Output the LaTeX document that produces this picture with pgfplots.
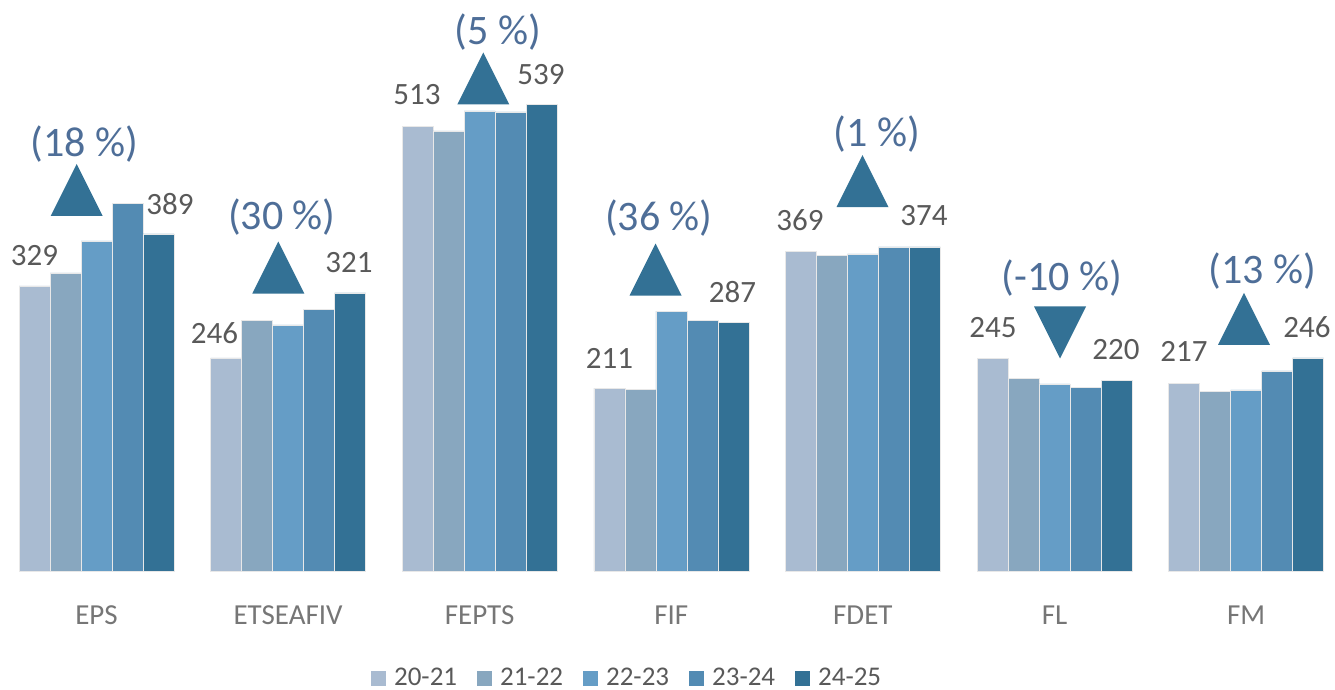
\documentclass[border=0pt]{standalone}
\usepackage{pgfplots}
\pgfplotsset{compat=1.18}
\usepackage{fontspec}
\setmainfont{Carlito}
\definecolor{c1}{HTML}{A9BBD1}
\definecolor{c2}{HTML}{88A7BF}
\definecolor{c3}{HTML}{659DC6}
\definecolor{c4}{HTML}{538BB3}
\definecolor{c5}{HTML}{337195}
\definecolor{pct}{HTML}{4E6E98}
\definecolor{num}{HTML}{595959}
\definecolor{cat}{HTML}{767676}
\pgfdeclareplotmark{triup}{%
  \pgfpathmoveto{\pgfqpoint{-13pt}{-13pt}}%
  \pgfpathlineto{\pgfqpoint{13pt}{-13pt}}%
  \pgfpathlineto{\pgfqpoint{0pt}{13pt}}%
  \pgfpathclose\pgfusepathqfill}
\pgfdeclareplotmark{tridown}{%
  \pgfpathmoveto{\pgfqpoint{-13pt}{13pt}}%
  \pgfpathlineto{\pgfqpoint{13pt}{13pt}}%
  \pgfpathlineto{\pgfqpoint{0pt}{-13pt}}%
  \pgfpathclose\pgfusepathqfill}
\begin{document}
\begin{tikzpicture}
\path[use as bounding box] (0pt,-59.5pt) rectangle (667.5pt,285.5pt);
\begin{axis}[
  at={(0pt,0pt)}, anchor=south west,
  scale only axis, width=667.5pt, height=285.5pt,
  xmin=-0.5037, xmax=6.464, ymin=0, ymax=659.1,
  clip=false,
  axis line style={draw=none},
  ytick=\empty,
  xtick={0,1,2,3,4,5,6},
  xticklabels={EPS,ETSEAFIV,FEPTS,FIF,FDET,FL,FM},
  major tick length=0pt,
  xticklabel style={anchor=center, yshift=-22pt, font=\fontsize{14.5}{17}\selectfont, text=cat},
  legend columns=5,
  legend style={at={(axis description cs:0.472,-0.1875)}, anchor=center, draw=none, fill=none,
    font=\fontsize{13.5}{15}\selectfont, text=num,
    nodes={inner xsep=4pt, inner ysep=0pt},
    /tikz/every even column/.append style={column sep=6pt}},
  legend image code/.code={\fill[#1,draw=none] (0pt,-3.75pt) rectangle (7.5pt,3.75pt);},
  every axis plot/.append style={draw=white!82!gray, line width=0.3pt},
]
\addplot[ybar, bar width=0.1618, bar shift=-0.3236, fill=c1] coordinates {(0,329) (1,246) (2,513) (3,211) (4,369) (5,245) (6,217)};
\addlegendentry{20-21}
\addplot[ybar, bar width=0.1618, bar shift=-0.1618, fill=c2] coordinates {(0,344) (1,289) (2,508) (3,210) (4,364) (5,222) (6,207)};
\addlegendentry{21-22}
\addplot[ybar, bar width=0.1618, bar shift=0, fill=c3] coordinates {(0,381) (1,284) (2,531) (3,300) (4,366) (5,216) (6,209)};
\addlegendentry{22-23}
\addplot[ybar, bar width=0.1618, bar shift=0.1618, fill=c4] coordinates {(0,424) (1,302) (2,530) (3,289) (4,374) (5,212) (6,231)};
\addlegendentry{23-24}
\addplot[ybar, bar width=0.1618, bar shift=0.3236, fill=c5] coordinates {(0,389) (1,321) (2,539) (3,287) (4,374) (5,220) (6,246)};
\addlegendentry{24-25}
% change markers
\addplot[forget plot, only marks, draw=none, mark=triup, mark options={fill=c5, draw=none}] coordinates {(-0.1033,439.8) (0.949,350.3) (2.019,568.5) (2.918,348.0) (3.998,450.0) (5.989,291.1)};
\addplot[forget plot, only marks, draw=none, mark=tridown, mark options={fill=c5, draw=none}] coordinates {(5.029,275.3)};
% percentage labels
\begin{scope}[every node/.style={font=\fontsize{21}{25}\selectfont, text=pct, anchor=center}]
\node at (axis cs:-0.064,492.7) {(18 \%)};
\node at (axis cs:0.967,409.0) {(30 \%)};
\node at (axis cs:2.096,621.6) {(5 \%)};
\node at (axis cs:2.935,407.1) {(36 \%)};
\node at (axis cs:4.072,504.4) {(1 \%)};
\node at (axis cs:5.038,337.9) {(-10 \%)};
\node at (axis cs:6.086,346.5) {(13 \%)};
\end{scope}
% value labels
\begin{scope}[every node/.style={font=\fontsize{15.5}{18}\selectfont, text=num, anchor=center}]
\node at (axis cs:-0.3236,364.0) {329};
\node at (axis cs:0.3836,423.9) {389};
\node at (axis cs:0.6159,274.7) {246};
\node at (axis cs:1.318,355.5) {321};
\node at (axis cs:1.673,549.5) {513};
\node at (axis cs:2.320,572.6) {539};
\node at (axis cs:2.677,245.5) {211};
\node at (axis cs:3.319,322.4) {287};
\node at (axis cs:3.672,405.2) {369};
\node at (axis cs:4.319,409.8) {374};
\node at (axis cs:4.679,280.7) {245};
\node at (axis cs:5.321,255.1) {220};
\node at (axis cs:5.676,253.1) {217};
\node at (axis cs:6.318,281.7) {246};
\end{scope}
\end{axis}
\end{tikzpicture}
\end{document}
